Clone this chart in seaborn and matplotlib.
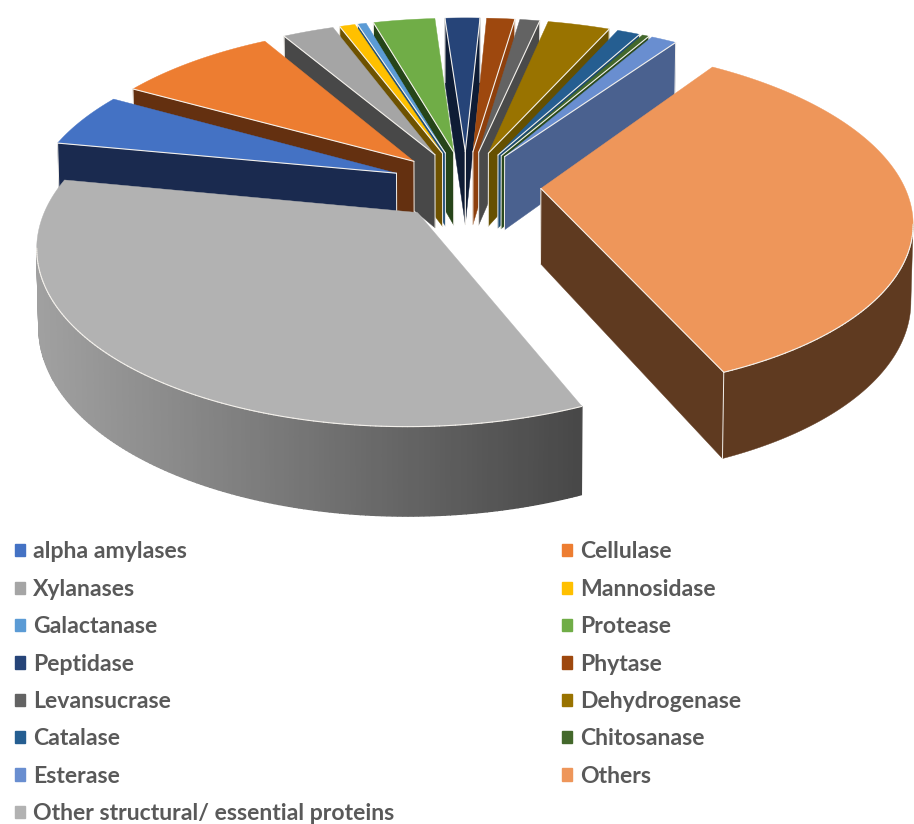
import numpy as np
import matplotlib
matplotlib.use("Agg")
import matplotlib.pyplot as plt
from matplotlib.patches import Patch
from matplotlib.colors import to_rgb
import seaborn as sns

categories = ["alpha amylases", "Cellulase", "Xylanases", "Mannosidase", "Galactanase",
              "Protease", "Peptidase", "Phytase", "Levansucrase", "Dehydrogenase",
              "Catalase", "Chitosanase", "Esterase", "Others",
              "Other structural/ essential proteins"]
values = [5.14, 8.42, 2.72, 0.83, 0.47, 3.28, 1.86, 1.5, 1.06, 3.31, 1.22, 0.36, 1.36, 34.03, 34.44]
top_colors = ["#4472c4", "#ed7d31", "#a5a5a5", "#ffc000", "#5b9bd5", "#70ad47", "#264478",
              "#9e480e", "#636363", "#997300", "#255e91", "#43682b", "#698ed0", "#ee965a", "#b2b2b2"]
wall_colors = ["#1a2a4f", "#643010", "#484848", "#6e5200", "#1f4e79", "#264419", "#0e1c35",
               "#8e400d", "#4a4a4a", "#665000", "#1b4a72", "#2b4a1c", "#4a618f", "#5f3a20", "#808080"]

# view model of the 3-D pie
CX, CY = 466.0, 185.0
RADIUS, EXPLODE = 363.0, 75.0
SQUASH, PERSP, DEPTH = 0.46, 0.00047, 75.0
START = 169.0
EDGE = "#f4f1ec"

sns.set_theme(style="white")
plt.rcParams["font.family"] = ["Lato", "DejaVu Sans"]
fig = plt.figure(figsize=(9.14, 8.24), dpi=100)
ax = fig.add_axes([0, 0, 1, 1])
ax.set_xlim(0, 914)
ax.set_ylim(824, 0)
ax.axis("off")


def project(u, v):
    s = 1.0 / (1.0 - PERSP * v)
    return CX + u * s, CY + SQUASH * v * s, s


def gray_wall(x):
    t = np.clip((x - 40.0) / 550.0, 0, 1)
    return np.array(to_rgb("#a0a0a0")) * (1 - t) + np.array(to_rgb("#464646")) * t


angles = np.array(values) / np.sum(values) * 360.0
ends = START - np.cumsum(angles)
starts = ends + angles
slices = []
for i in range(len(values)):
    mid = np.radians((starts[i] + ends[i]) / 2)
    au, av = EXPLODE * np.cos(mid), -EXPLODE * np.sin(mid)
    th = np.radians(np.linspace(starts[i], ends[i], max(3, int(angles[i] * 1.5))))
    us = np.r_[au, au + RADIUS * np.cos(th)]
    vs = np.r_[av, av - RADIUS * np.sin(th)]
    slices.append((av, i, us, vs))

gray_index = len(values) - 1
for order, (av, i, us, vs) in enumerate(sorted(slices, key=lambda r: r[0])):
    X, Y, S = project(us, vs)
    B = Y + DEPTH * S ** 0.8
    Xb = CX + (X - CX) * 0.995
    cx, cy = X.mean(), Y.mean()
    n = len(X)
    z = 2 + order
    visible = []
    for a in range(n):
        b = (a + 1) % n
        dx, dy = X[b] - X[a], Y[b] - Y[a]
        nx, ny = -dy, dx
        if nx * ((X[a] + X[b]) / 2 - cx) + ny * ((Y[a] + Y[b]) / 2 - cy) < 0:
            nx, ny = -nx, -ny
        if ny > 0:
            visible.append(a)
    outer = [a for a in visible if 1 <= a < n - 1]
    radial = [a for a in visible if a == 0 or a == n - 1]
    for a in radial:
        b = (a + 1) % n
        ax.fill([X[a], X[b], Xb[b], Xb[a]], [Y[a], Y[b], B[b], B[a]],
                color=wall_colors[i], lw=0.3, zorder=z)
    if outer:
        if i == gray_index:
            for a in outer:
                ax.fill([X[a], X[a + 1], Xb[a + 1], Xb[a]], [Y[a], Y[a + 1], B[a + 1], B[a]],
                        color=gray_wall((X[a] + X[a + 1]) / 2), lw=1.0, zorder=z)
        else:
            idx = list(outer) + [outer[-1] + 1]
            ax.fill(np.r_[X[idx], Xb[idx][::-1]], np.r_[Y[idx], B[idx][::-1]],
                    color=wall_colors[i], lw=0.3, zorder=z)
    ax.fill(X, Y, color=top_colors[i], lw=0.3, zorder=z + 0.1)
    for a in visible:
        b = (a + 1) % n
        ax.plot([X[a], X[b]], [Y[a], Y[b]], color=EDGE, lw=0.8, zorder=z + 0.2, solid_capstyle="round")
    for a in radial:
        b = (a + 1) % n
        for c in (a, b):
            ax.plot([X[c], Xb[c]], [Y[c], B[c]], color=EDGE, lw=0.7, zorder=z + 0.2)

col1 = list(range(0, 15, 2))
col2 = list(range(1, 15, 2))
idx = col1 + col2
handles = [Patch(color=top_colors[k], label=categories[k]) for k in idx]
leg = ax.legend(handles=handles, ncols=2, frameon=False, loc="upper left",
                bbox_to_anchor=(15, 541.5), bbox_transform=ax.transData, borderpad=0, borderaxespad=0,
                prop={"family": "Lato", "weight": "bold", "size": 16.6},
                handlelength=0.44, handleheight=0.44, handletextpad=0.35,
                labelspacing=0.71, columnspacing=7.28, labelcolor="#595959")
fig.savefig("out.png", dpi=100)
